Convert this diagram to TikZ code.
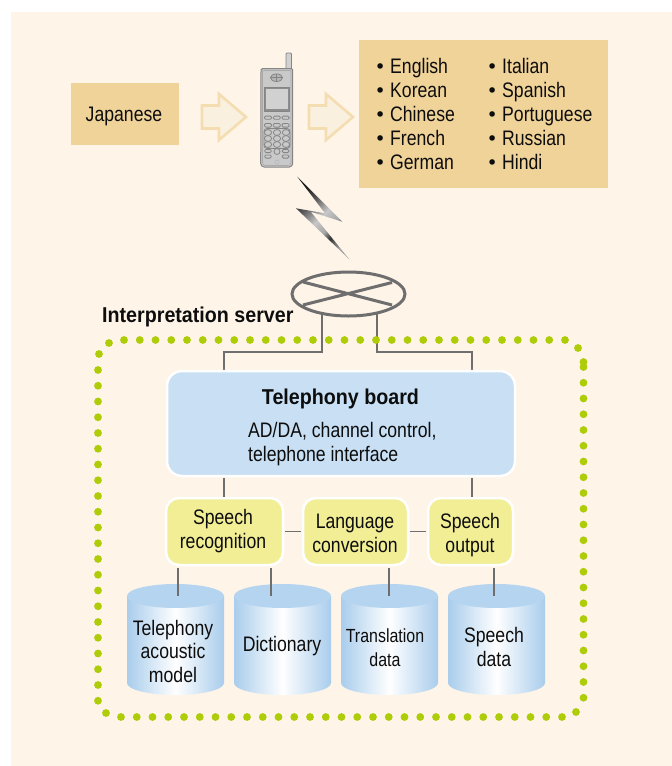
\documentclass[tikz,border=0pt]{standalone}
\usepackage{fontspec}
\setmainfont[FakeStretch=0.84]{Liberation Sans}
\newfontfamily\boldf[FakeStretch=0.915]{Liberation Sans Bold}
\newfontfamily\bulf{DejaVu Sans}
\usetikzlibrary{shapes.geometric}
\definecolor{pagebg}{HTML}{FEF4E8}
\definecolor{tan}{HTML}{F0D399}
\definecolor{arrowedge}{HTML}{F5DDB2}
\definecolor{arrowfill}{HTML}{FAF0DF}
\definecolor{boardblue}{HTML}{C8DFF4}
\definecolor{boxyellow}{HTML}{F2EE96}
\definecolor{cyltop}{HTML}{B4D4F0}
\definecolor{cylside}{HTML}{A9CDEC}
\definecolor{linegray}{HTML}{6E6E6E}
\definecolor{dotgreen}{HTML}{AECD08}
\definecolor{phonefill}{HTML}{C9C9C9}
\definecolor{phoneline}{HTML}{858585}
\pgfdeclareverticalshading{bolt}{100bp}{
 color(0bp)=(black!40); color(25bp)=(black!35); color(35.4bp)=(black!80);
 color(41.6bp)=(black!35); color(51.5bp)=(black!22); color(63.7bp)=(black!65);
 color(75bp)=(black!90); color(100bp)=(black!90)}
\tikzset{
 txt/.style={font=\fontsize{21}{23.5}\selectfont,inner sep=0pt,anchor=base,align=center,text=black!95},
 listcol/.style={txt,anchor=north west,align=left,font=\fontsize{21}{24}\selectfont},
 tanbox/.style={fill=tan,inner sep=0pt,anchor=north west},
 yellowbox/.style={fill=boxyellow,draw=white,line width=2.5pt,rounded corners=13pt,inner sep=0pt,outer sep=0pt,anchor=north west},
 boardbox/.style={fill=boardblue,draw=white,line width=2.5pt,rounded corners=15pt,inner sep=0pt,outer sep=0pt,anchor=north west},
 conn/.style={draw=linegray,line width=1.9pt},
 busline/.style={draw=linegray,line width=1.5pt},
 netline/.style={draw=linegray,line width=3pt},
 arrowshape/.style={fill=arrowfill,draw=arrowedge,line width=2.6pt,line join=miter},
 phoneline style/.style={draw=phoneline,line width=0.8pt},
 key/.style={draw=phoneline,line width=0.8pt,fill=phonefill},
}
\newcommand{\bul}{\makebox[15.5pt][l]{{\bulf\fontsize{19}{24}\selectfont •}}}
\newcommand{\cyl}[2]{% left x, name
 \shade[left color=cylside,right color=cylside,middle color=white]
   (#1,596) -- (#1+97,596) -- (#1+97,683) arc[start angle=0,end angle=180,x radius=48.5,y radius=12] -- cycle;
 \fill[cyltop] (#1+48.5,596) ellipse[x radius=48.5,y radius=12];
 \node[inner sep=0pt,minimum width=97pt,minimum height=111pt,anchor=north west] (#2) at (#1,584) {};
}
\newcommand{\akey}[4]{\draw[key,rounded corners=1.2pt] (#1-#3/2,#2-#4/2) rectangle (#1+#3/2,#2+#4/2);}
\begin{document}
\begin{tikzpicture}[x=1pt,y=-1pt]
\useasboundingbox (0,0) rectangle (672,766);
\fill[pagebg] (11,12) rectangle (672,766);

% top row
\node[tanbox,minimum width=108pt,minimum height=62pt] (jp) at (71,83) {};
\node[txt] (jptext) at (124,121) {Japanese};
\node[tanbox,minimum width=249pt,minimum height=148pt] (langs) at (359,40) {};
\node[listcol] (col1) at (374.5,58) {\bul English\\\bul Korean\\\bul Chinese\\\bul French\\\bul German};
\node[listcol] (col2) at (486.5,58) {\bul Italian\\\bul Spanish\\\bul Portuguese\\\bul Russian\\\bul Hindi};

\draw[arrowshape] (202,105.5) -- (219,105.5) -- (219,94) -- (246,117) -- (219,140) -- (219,128.5) -- (202,128.5) -- cycle;
\draw[arrowshape] (309,105.5) -- (326,105.5) -- (326,94) -- (353,117) -- (326,140) -- (326,128.5) -- (309,128.5) -- cycle;

% phone
\draw[phoneline style,fill=phonefill!85!white,rounded corners=1pt] (286,72) -- (286,53) -- (291.5,53) -- (291.5,72) -- cycle;
\draw[draw=phoneline,line width=1pt,fill=phonefill,rounded corners=3.5pt] (261,73) .. controls (261,70) and (263,68.5) .. (266,68.5) -- (288,68.5) .. controls (291,68.5) and (292.5,70) .. (292.5,73) -- (292.7,167) -- (260.7,167) -- cycle;
\draw[draw=phoneline!70!white,line width=0.6pt,fill=none,rounded corners=3pt] (262.5,74) .. controls (262.5,72) and (264,70.5) .. (267,70.5) -- (287,70.5) .. controls (290,70.5) and (291,72) .. (291,74) -- (291,165.5) -- (262.5,165.5) -- cycle;
\draw[phoneline style,fill=phonefill!90!black] (276.5,77.7) ellipse[x radius=6,y radius=3.8];
\draw[phoneline style] (270.5,77.7) -- (282.5,77.7) (276.5,74) -- (276.5,81.5);
\draw[phoneline style,fill=phonefill!70!black,line width=0.6pt] (264.3,87) rectangle (289.3,111);
\fill[phonefill!85!white] (266,88.5) rectangle (287.6,108.5);
\foreach \kx in {268,276.8,285.6} {\akey{\kx}{117.7}{7}{3.2}\akey{\kx}{125.3}{7}{3.6}}
\foreach \ky in {132.5,138.5,144.5} {\foreach \kx in {268,277,286} {\draw[key] (\kx,\ky) ellipse[x radius=3.6,y radius=3];}}
\draw[phoneline style,rounded corners=3pt] (264,128.5) rectangle (290,148.5);
\foreach \kx in {268,285.6} {\akey{\kx}{151}{6.5}{3.2}\akey{\kx}{156.5}{6.5}{3.2}}
\draw[key] (277,151.5) circle[radius=3];
\foreach \a in {0,60,...,300} {\fill[phoneline] (277,162)++(\a:2) circle[radius=0.45];}

% bolt
\shade[shading=bolt,shading angle=45] (297.3,176.7) -- (342.3,221.7) -- (310.7,211.7) -- (349.3,259.3) -- (296,208.3) -- (325,213.3) -- cycle;

% network symbol and its connectors
\node[ellipse,draw=linegray,line width=3pt,inner sep=0pt,minimum width=113pt,minimum height=44pt] (net) at (348.5,294) {};
\coordinate (crossA) at (303,282);
\coordinate (crossB) at (392,305);
\coordinate (crossC) at (303,305);
\coordinate (crossD) at (392,282.5);
\draw[netline] (crossA) -- (crossB) (crossC) -- (crossD);
\coordinate (netL) at (322,314);
\coordinate (netR) at (377,314);
\coordinate (bus) at (0,352);
\coordinate (tbL) at (224,373);
\coordinate (tbR) at (472,373);
\draw[busline] (netL) -- (netL |- bus) -- (tbL |- bus) -- (tbL);
\draw[busline] (netR) -- (netR |- bus) -- (tbR |- bus) -- (tbR);

\node[txt,font=\boldf\fontsize{21.5}{24}\selectfont,anchor=base west] (server) at (102,322.5) {Interpretation server};

% dotted frame
\foreach \i in {0,...,28} {\fill[dotgreen] (124+15.75*\i,340) circle[radius=3.9];}
\foreach \i in {0,...,28} {\fill[dotgreen] (121+15.75*\i,717) circle[radius=3.9];}
\foreach \i in {0,...,21} {\fill[dotgreen] (583.5,367+15.75*\i) circle[radius=3.9];}
\foreach \i in {0,...,21} {\fill[dotgreen] (98,370+15.75*\i) circle[radius=3.9];}
\fill[dotgreen] (109,343) circle[radius=3.9];
\fill[dotgreen] (99,354) circle[radius=3.9];
\fill[dotgreen] (578,348) circle[radius=3.9];
\fill[dotgreen] (583.5,362) circle[radius=3.9];
\fill[dotgreen] (576,712) circle[radius=3.9];
\fill[dotgreen] (106,713) circle[radius=3.9];

% board
\node[boardbox,minimum width=348pt,minimum height=105pt] (tb) at (167,371) {};
\node[txt,font=\boldf\fontsize{21.5}{24}\selectfont] (tbtitle) at (340.5,404) {Telephony board};
\node[txt,anchor=base west,align=left] (tbtext) at (248,461) {AD/DA, channel control,\\telephone interface};

% function boxes and stores
\node[yellowbox,minimum width=117pt,minimum height=67pt] (sr) at (166,498) {};
\node[yellowbox,minimum width=105pt,minimum height=67pt] (lc) at (303,498) {};
\node[yellowbox,minimum width=85pt,minimum height=67pt] (so) at (428,498) {};
\node[txt] (srtext) at (223,548) {Speech\\recognition};
\node[txt] (lctext) at (355,552) {Language\\conversion};
\node[txt] (sotext) at (470,552) {Speech\\output};
\cyl{127}{tam}
\cyl{234}{dic}
\cyl{341}{tra}
\cyl{448}{spd}
\node[txt] (tamtext) at (173,682) {Telephony\\acoustic\\model};
\node[txt] (dictext) at (282,651) {Dictionary};
\node[txt,font=\fontsize{19}{23.5}\selectfont] (tratext) at (385,666) {Translation\\data};
\node[txt] (spdtext) at (494,666) {Speech\\data};

\coordinate (a1) at (224,478);\coordinate (a2) at (224,497);
\coordinate (b1) at (472,478);\coordinate (b2) at (472,497);
\draw[conn] (a1) -- (a2);
\draw[conn] (b1) -- (b2);
\draw[conn] (sr.east) ++(2,0) -- ([xshift=-2pt]lc.west);
\draw[conn] (lc.east) ++(2,0) -- ([xshift=-2pt]so.west);
\coordinate (c1) at (178,596);\coordinate (d1) at (271,596);\coordinate (e1) at (389,596);\coordinate (f1) at (494,596);
\draw[conn] (c1 |- sr.south) ++(0,3) -- (c1);
\draw[conn] (d1 |- sr.south) ++(0,3) -- (d1);
\draw[conn] (e1 |- lc.south) ++(0,3) -- (e1);
\draw[conn] (f1 |- so.south) ++(0,3) -- (f1);
\end{tikzpicture}
\end{document}
